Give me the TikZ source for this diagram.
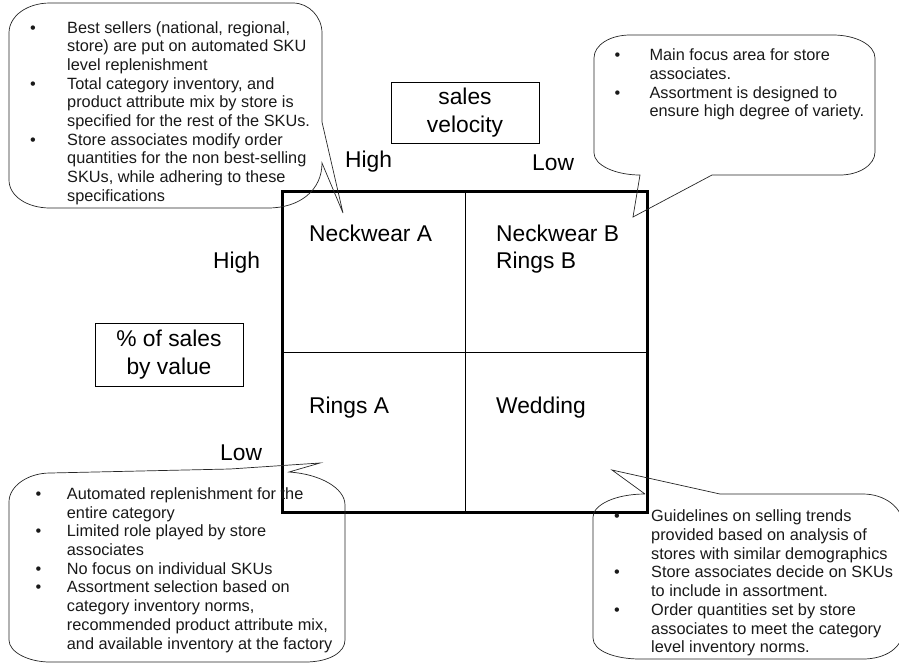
\documentclass[tikz,border=0pt]{standalone}
\usepackage{fontspec}
\setmainfont{Liberation Sans}
\newcommand\cb[1]{\makebox[#1pt][l]{•}}
\newcommand\ci[1]{\hspace*{#1pt}}
\begin{document}
\begin{tikzpicture}[x=1pt,y=-1pt,
  callout/.style={draw=black!85,line width=0.7pt},
  note/.style={anchor=base west,inner sep=0pt,align=left,text=black!90,font=\fontsize{16.3}{18.7}\selectfont},
  big/.style={anchor=base west,inner sep=0pt,align=left,font=\fontsize{22.8}{26.8}\selectfont},
  axisbox/.style={draw,line width=0.8pt,inner sep=0pt,align=center,font=\fontsize{22.8}{28}\selectfont}]
\useasboundingbox (0,0) rectangle (899,665);
% grid
\coordinate (tl) at (282,191);
\coordinate (br) at (647,512);
\coordinate (tm) at (465,191);
\coordinate (bm) at (465,512);
\coordinate (ml) at (282,352);
\coordinate (mr) at (647,352);
\draw[line width=0.8pt] (tm) -- (bm);
\draw[line width=0.8pt] (ml) -- (mr);
\draw[line width=3pt] (tl) rectangle (br);
% cell texts (anchor = baseline of last line)
\node[big] (na) at (309,241.7) {Neckwear A};
\node[big] (nb) at (496,268.4) {Neckwear B\\Rings B};
\node[big] (ra) at (309,413.3) {Rings A};
\node[big] (wd) at (496,413.3) {Wedding};
% axis labels
\node[axisbox,minimum width=148pt,minimum height=61pt] (sv) at (465,112.5) {sales\\velocity};
\node[axisbox,minimum width=148pt,minimum height=63pt] (ps) at (169,354.5) {\% of sales\\by value};
\node[big] (hh) at (345,167.3) {High};
\node[big] (hl) at (532,170) {Low};
\node[big] (vh) at (213,268.3) {High};
\node[big] (vl) at (220,460) {Low};
% callout 1 (top left)
\draw[callout] (322,122) -- (322,33) .. controls (322,17) and (309,3) .. (293,3) -- (50,3)
  .. controls (27,3) and (9,16) .. (9,33) -- (9,180) .. controls (9,196) and (27,208) .. (50,208)
  -- (268,208) .. controls (300,208) and (322,190) .. (322,163) -- (343,213) -- cycle;
\node[note] (t1) at (30,201.3) {\cb{37}Best sellers (national, regional,\\
\ci{37}store) are put on automated SKU\\
\ci{37}level replenishment\\
\cb{37}Total category inventory, and\\
\ci{37}product attribute mix by store is\\
\ci{37}specified for the rest of the SKUs.\\
\cb{37}Store associates modify order\\
\ci{37}quantities for the non best-selling\\
\ci{37}SKUs, while adhering to these\\
\ci{37}specifications};
% callout 2 (top right)
\draw[callout] (633,217) -- (640,175) .. controls (615,175) and (594,165) .. (594,153) -- (594,58)
  .. controls (594,45) and (610,35) .. (630,35) -- (833,35) .. controls (856,35) and (875,45) .. (875,58)
  -- (875,152) .. controls (875,165) and (859,175) .. (840,175) -- (712,175) -- cycle;
\node[note] (t2) at (614.4,116.8) {\cb{35}Main focus area for store\\
\ci{35}associates.\\
\cb{35}Assortment is designed to\\
\ci{35}ensure high degree of variety.};
% callout 3 (bottom left)
\draw[callout] (230,469) -- (320,463) -- (289,472) .. controls (320,474) and (345,488) .. (345,505)
  -- (345,640) .. controls (345,652) and (330,662) .. (305,662) -- (50,662)
  .. controls (28,662) and (9,652) .. (9,640) -- (9,502) .. controls (9,486) and (28,473) .. (50,473) -- cycle;
\node[note] (t3) at (35.4,649) {\cb{31.3}Automated replenishment for the\\
\ci{31.3}entire category\\
\cb{31.3}Limited role played by store\\
\ci{31.3}associates\\
\cb{31.3}No focus on individual SKUs\\
\cb{31.3}Assortment selection based on\\
\ci{31.3}category inventory norms,\\
\ci{31.3}recommended product attribute mix,\\
\ci{31.3}and available inventory at the factory};
% callout 4 (bottom right)
\draw[callout] (645,494) -- (612,470) -- (720,494) -- (863,494) .. controls (885,494) and (903,508) .. (903,525)
  -- (903,630) .. controls (903,648) and (885,659) .. (863,659) -- (640,659)
  .. controls (615,659) and (593,651) .. (593,638) -- (593,517) .. controls (593,505) and (615,494) .. (645,494);
\node[note] (t4) at (614,652.7) {\cb{37}Guidelines on selling trends\\
\ci{37}provided based on analysis of\\
\ci{37}stores with similar demographics\\
\cb{37}Store associates decide on SKUs\\
\ci{37}to include in assortment.\\
\cb{37}Order quantities set by store\\
\ci{37}associates to meet the category\\
\ci{37}level inventory norms.};
\end{tikzpicture}
\end{document}
